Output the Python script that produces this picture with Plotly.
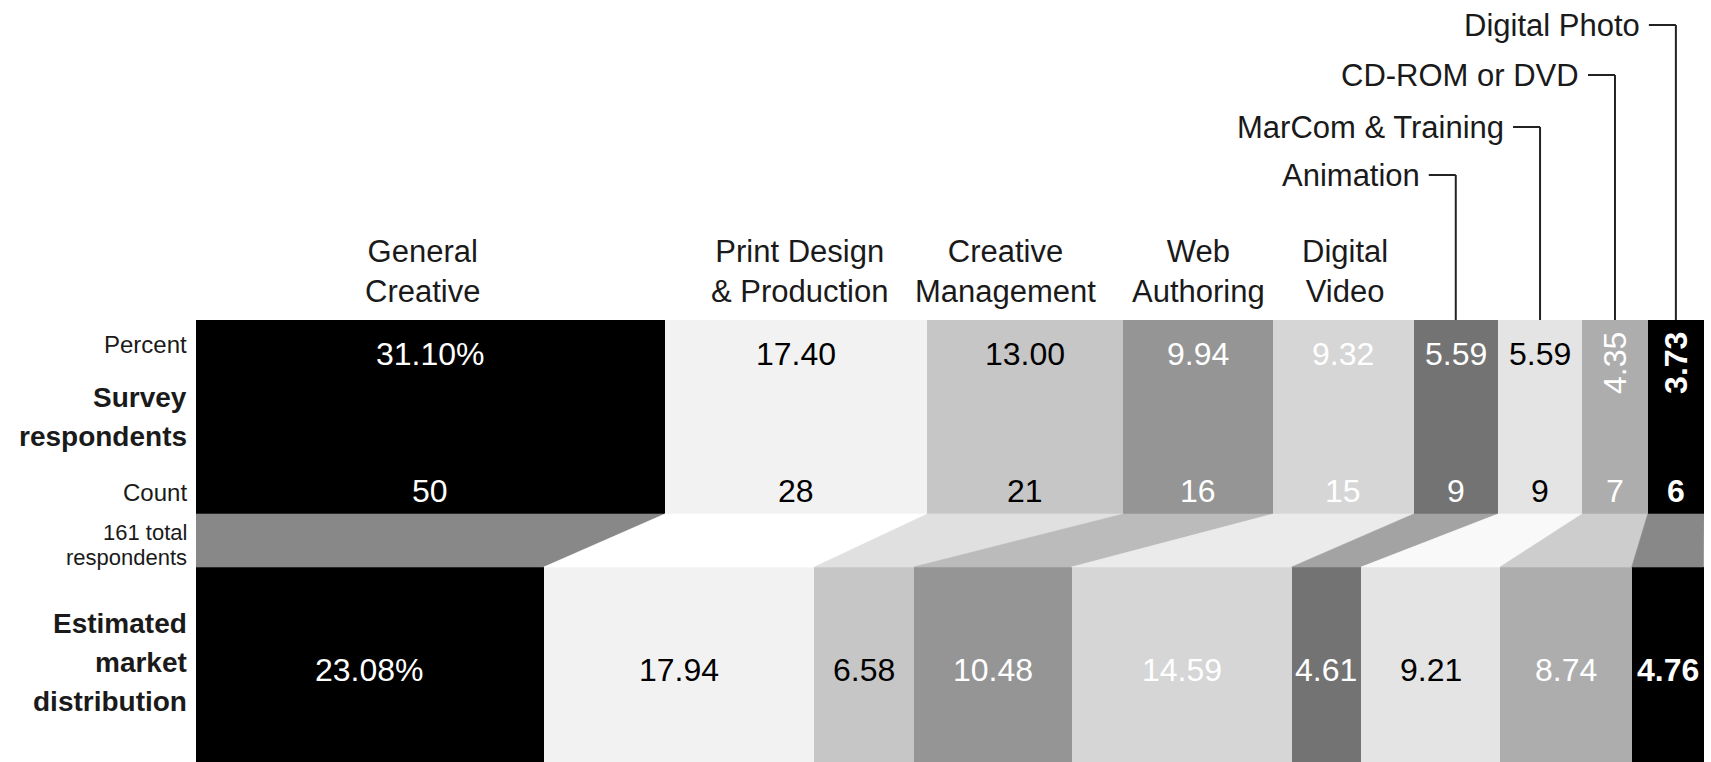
import plotly.graph_objects as go
import numpy as np

# ---------------- data ----------------
categories = ["General Creative", "Print Design & Production", "Creative Management",
              "Web Authoring", "Digital Video", "Animation", "MarCom & Training",
              "CD-ROM or DVD", "Digital Photo"]
header_labels = ["General<br>Creative", "Print Design<br>& Production", "Creative<br>Management",
                 "Web<br>Authoring", "Digital<br>Video"]
callout_labels = ["Animation", "MarCom & Training", "CD-ROM or DVD", "Digital Photo"]
survey_percent = [31.10, 17.40, 13.00, 9.94, 9.32, 5.59, 5.59, 4.35, 3.73]
survey_percent_text = ["31.10%", "17.40", "13.00", "9.94", "9.32", "5.59", "5.59", "4.35", "3.73"]
survey_count = [50, 28, 21, 16, 15, 9, 9, 7, 6]
market_share = [23.08, 17.94, 6.58, 10.48, 14.59, 4.61, 9.21, 8.74, 4.76]
market_share_text = ["23.08%", "17.94", "6.58", "10.48", "14.59", "4.61", "9.21", "8.74", "4.76"]
total_respondents = 161

# ---------------- styles ----------------
bar_colors = ["#000000", "#f2f2f2", "#c6c6c6", "#959595", "#d6d6d6",
              "#737373", "#e4e4e4", "#adadad", "#000000"]
link_colors = ["#888888", "#ffffff", "#e0e0e0", "#bbbbbb", "#ebebeb",
               "#a3a3a3", "#f9f9f9", "#cdcdcd", "#888888"]
value_colors = ["white", "black", "black", "white", "white", "white", "black", "white", "white"]
value_weight = ["normal"] * 8 + ["bold"]
FONT = "Liberation Sans, Arial, Helvetica, sans-serif"
LABEL_COLOR = "#1a1a1a"

# layout geometry (pixel-like y axis)
W, H = 1711, 762
TOP_Y0, TOP_Y1 = 320, 514
BOT_Y0, BOT_Y1 = 567, 762
PCT_Y, CNT_Y, ROT_Y = 354, 491, 363
MKT_Y = 670
HEADER_Y = 271
CALLOUT_Y = [175, 127, 75, 25]

top_start = np.concatenate([[0], np.cumsum(survey_percent)[:-1]])
top_end = np.cumsum(survey_percent)
bot_start = np.concatenate([[0], np.cumsum(market_share)[:-1]])
bot_end = np.cumsum(market_share)
top_mid = (top_start + top_end) / 2
bot_mid = (bot_start + bot_end) / 2

fig = go.Figure()

# connector parallelograms
for i in range(len(categories)):
    fig.add_trace(go.Scatter(
        x=[top_start[i], top_end[i], bot_end[i], bot_start[i], top_start[i]],
        y=[TOP_Y1, TOP_Y1, BOT_Y0, BOT_Y0, TOP_Y1],
        mode="lines", fill="toself", fillcolor=link_colors[i],
        line=dict(width=0.6, color=link_colors[i]),
        hoverinfo="skip", showlegend=False))

# survey bars
fig.add_trace(go.Bar(
    orientation="h", y=[(TOP_Y0 + TOP_Y1) / 2] * len(categories), x=survey_percent,
    base=top_start, width=TOP_Y1 - TOP_Y0, marker=dict(color=bar_colors, line=dict(width=0)),
    customdata=categories, hovertemplate="%{customdata}: %{x}%<extra></extra>", showlegend=False))
# market bars
fig.add_trace(go.Bar(
    orientation="h", y=[(BOT_Y0 + BOT_Y1) / 2] * len(categories), x=market_share,
    base=bot_start, width=BOT_Y1 - BOT_Y0, marker=dict(color=bar_colors, line=dict(width=0)),
    customdata=categories, hovertemplate="%{customdata}: %{x}%<extra></extra>", showlegend=False))

ann = []
val_font = 32
for i in range(len(categories)):
    rot = survey_percent[i] < 5
    ann.append(dict(x=top_mid[i], y=ROT_Y if rot else PCT_Y, text=survey_percent_text[i],
                    textangle=-90 if rot else 0, showarrow=False, xanchor="center", yanchor="middle",
                    font=dict(family=FONT, size=val_font, color=value_colors[i], weight=value_weight[i])))
    ann.append(dict(x=top_mid[i], y=CNT_Y, text=str(survey_count[i]), showarrow=False,
                    xanchor="center", yanchor="middle",
                    font=dict(family=FONT, size=val_font, color=value_colors[i], weight=value_weight[i])))
    ann.append(dict(x=bot_mid[i], y=MKT_Y, text=market_share_text[i], showarrow=False,
                    xanchor="center", yanchor="middle",
                    font=dict(family=FONT, size=val_font, color=value_colors[i], weight=value_weight[i])))

# header labels above the wide segments
header_shift = [-8, 4, -20, 0, 2]
for i, lab in enumerate(header_labels):
    ann.append(dict(x=top_mid[i], y=HEADER_Y, text=lab, showarrow=False, xanchor="center",
                    yanchor="middle", xshift=header_shift[i],
                    font=dict(family=FONT, size=31, color=LABEL_COLOR)))

shapes = []
# callouts for narrow segments
for k, lab in enumerate(callout_labels):
    i = len(header_labels) + k
    yk = CALLOUT_Y[k]
    ann.append(dict(x=top_mid[i], y=yk, text=lab, showarrow=False, xanchor="right",
                    yanchor="middle", xshift=-34,
                    font=dict(family=FONT, size=31, color=LABEL_COLOR)))
    shapes.append(dict(type="line", xref="x", yref="y", xsizemode="pixel", xanchor=top_mid[i],
                       x0=-27, x1=0, y0=yk, y1=yk, line=dict(color="#222222", width=2)))
    shapes.append(dict(type="line", xref="x", yref="y", x0=top_mid[i], x1=top_mid[i],
                       y0=yk, y1=TOP_Y0, line=dict(color="#222222", width=2)))

# row labels on the left
def left_label(y, text, size, bold=False):
    ann.append(dict(xref="paper", x=0, y=y, text=text, showarrow=False, xanchor="right",
                    yanchor="middle", xshift=-7,
                    font=dict(family=FONT, size=size, color=LABEL_COLOR,
                              weight="bold" if bold else "normal")))

left_label(344, "Percent", 24)
left_label(397, "Survey", 28, True)
left_label(436, "respondents", 28, True)
left_label(492, "Count", 24)
left_label(532, f"{total_respondents} total", 22)
left_label(557, "respondents", 22)
left_label(623, "Estimated", 28, True)
left_label(662, "market", 28, True)
left_label(701, "distribution", 28, True)

fig.update_layout(
    width=W, height=H,
    margin=dict(l=196, r=7, t=0, b=0, pad=0),
    paper_bgcolor="white", plot_bgcolor="white",
    barmode="overlay", bargap=0,
    xaxis=dict(range=[0, float(top_end[-1])], visible=False, fixedrange=True),
    yaxis=dict(range=[H, 0], visible=False, fixedrange=True),
    annotations=ann, shapes=shapes,
    showlegend=False,
)

fig.write_html("out.html")
